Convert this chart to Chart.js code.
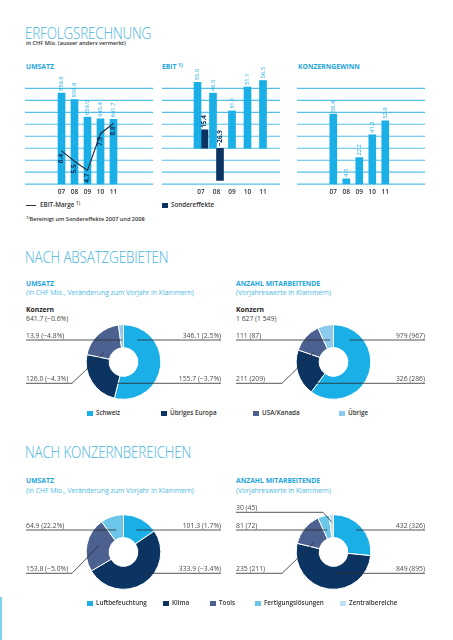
<!DOCTYPE html>
<html>
<head>
<meta charset="utf-8">
<script src="https://cdn.jsdelivr.net/npm/chart.js@4.4.1/dist/chart.umd.min.js"></script>
<style>
  body { margin: 0; background: #fff; width: 453px; height: 640px; position: relative; overflow: hidden; font-family: "Open Sans", sans-serif; }
  .t { position: absolute; white-space: nowrap; line-height: 1; }
  .h1 { font-weight: 300; font-size: 16px; color: #45b4dd; letter-spacing: -0.2px; transform: scaleX(0.84); transform-origin: 0 0; }
  .lbl { font-weight: 700; font-size: 6.8px; color: #1fa6dc; }
  .sub { font-size: 6.8px; color: #4cb8e2; }
  .kz { font-weight: 700; font-size: 6.8px; color: #222; }
  .kv { font-size: 6.8px; color: #444; }
  .leg { font-weight: 600; font-size: 6.3px; color: #333; }
  .note { font-weight: 600; font-size: 5.6px; color: #333; }
  sup { font-size: 70%; vertical-align: 0; position: relative; top: -0.4em; }
  .sq { position: absolute; width: 6px; height: 5px; }
  canvas { position: absolute; }
</style>
</head>
<body>
<div class="t h1" style="left:25px;top:25px">ERFOLGSRECHNUNG</div>
<div class="t note" style="left:26px;top:41px">in CHF Mio. (ausser anders vermerkt)</div>
<div class="t lbl" style="left:26px;top:64px">UMSATZ</div>
<div class="t lbl" style="left:162px;top:64px">EBIT <sup>1)</sup></div>
<div class="t lbl" style="left:298px;top:64px">KONZERNGEWINN</div>

<canvas id="cUmsatz" width="128" height="140" style="left:25px;top:60px"></canvas>
<canvas id="cEbit" width="118" height="140" style="left:162px;top:60px"></canvas>
<canvas id="cGewinn" width="128" height="140" style="left:297px;top:60px"></canvas>

<div style="position:absolute;left:26px;top:204.5px;width:10px;height:1px;background:#2a3242"></div>
<div class="t leg" style="left:40px;top:201.5px">EBIT-Marge <sup>1)</sup></div>
<div class="sq" style="left:162px;top:202.5px;background:#0c3463"></div>
<div class="t leg" style="left:171px;top:201.5px">Sondereffekte</div>
<div class="t note" style="left:26px;top:217px"><sup>1)</sup>Bereinigt um Sondereffekte 2007 und 2008</div>

<div class="t h1" style="left:25px;top:249px">NACH ABSATZGEBIETEN</div>
<div class="t lbl" style="left:26px;top:280.5px">UMSATZ</div>
<div class="t sub" style="left:26px;top:290px">(in CHF Mio., Veränderung zum Vorjahr in Klammern)</div>
<div class="t kz" style="left:26px;top:306.5px">Konzern</div>
<div class="t kv" id="totUmsatzRegion" style="left:26px;top:315.5px"></div>
<div class="t lbl" style="left:236px;top:280.5px">ANZAHL MITARBEITENDE</div>
<div class="t sub" style="left:236px;top:290px">(Vorjahreswerte in Klammern)</div>
<div class="t kz" style="left:236px;top:306.5px">Konzern</div>
<div class="t kv" id="totMaRegion" style="left:236px;top:315.5px"></div>

<canvas id="d1" width="195" height="92" style="left:26px;top:316px"></canvas>
<canvas id="d2" width="189" height="92" style="left:236px;top:316px"></canvas>
<div id="legRegion"></div>

<div class="t h1" style="left:25px;top:444px">NACH KONZERNBEREICHEN</div>
<div class="t lbl" style="left:26px;top:478px">UMSATZ</div>
<div class="t sub" style="left:26px;top:488px">(in CHF Mio., Veränderung zum Vorjahr in Klammern)</div>
<div class="t lbl" style="left:236px;top:478px">ANZAHL MITARBEITENDE</div>
<div class="t sub" style="left:236px;top:488px">(Vorjahreswerte in Klammern)</div>

<canvas id="d3" width="195" height="104" style="left:26px;top:500px"></canvas>
<canvas id="d4" width="189" height="104" style="left:236px;top:500px"></canvas>
<div id="legBereich"></div>

<div style="position:absolute;left:0;top:597px;width:2px;height:43px;background:#7fd0ee"></div>

<script>
// Erfolgsrechnung
const years = ["07", "08", "09", "10", "11"];
const umsatz = [859.8, 806.9, 659.0, 645.4, 641.7];
const ebitMarge = [6.4, 5.5, 4.7, 7.9, 8.8];
const ebit = [55.0, 46.0, 31.1, 51.1, 56.5];
const sondereffekte = [15.4, -26.9, null, null, null];
const konzerngewinn = [58.4, 4.5, 22.2, 41.2, 52.9];

// grid lines of the three bar charts
const umsatzGrid = [100, 200, 300, 400, 500, 600, 700, 800, 900];
const ebitGrid = [-30, -20, -10, 0, 10, 20, 30, 40, 50];
const gewinnGrid = [0, 10, 20, 30, 40, 50, 60, 70, 80];

// Absatzgebiete
const regionen = ["Schweiz", "Übriges Europa", "USA/Kanada", "Übrige"];
const umsatzRegion = [346.1, 155.7, 126.0, 13.9];
const umsatzRegionVeraenderung = ["2.5%", "−3.7%", "−4.3%", "−4.8%"];
const umsatzKonzernVeraenderung = "−0.6%";
const maRegion = [979, 326, 211, 111];
const maRegionVorjahr = [967, 286, 209, 87];

// Konzernbereiche
const bereiche = ["Luftbefeuchtung", "Klima", "Tools", "Fertigungslösungen", "Zentralbereiche"];
const umsatzBereich = [101.3, 333.9, 153.8, 64.9];
const umsatzBereichVeraenderung = ["1.7%", "−3.4%", "−5.0%", "22.2%"];
const maBereich = [432, 849, 235, 81, 30];
const maBereichVorjahr = [326, 895, 211, 72, 45];

const CYAN = "#1aafe6";
const NAVY = "#0c3463";
const GRID = "#55bfe8";
const regionColors = [CYAN, NAVY, "#4c6190", "#8ccbee"];
const bereichColors = [CYAN, NAVY, "#4c6190", "#6cc6ea", "#bfe1f3"];

Chart.defaults.font.family = "'Open Sans', sans-serif";
Chart.defaults.animation = false;
Chart.defaults.plugins.legend.display = false;
Chart.defaults.plugins.tooltip.enabled = false;

const fmt = (v) => (v < 0 ? "−" : "") + Math.abs(v).toFixed(1);
const fmtInt = (v) => String(v).replace(/\B(?=(\d{3})+(?!\d))/g, " ");

// horizontal grid lines across the whole canvas
const fullGrid = {
  id: "fullGrid",
  beforeDatasetsDraw(chart, args, opts) {
    const { ctx, width } = chart;
    const y = chart.scales.y;
    ctx.save();
    ctx.strokeStyle = GRID;
    ctx.lineWidth = 1.2;
    opts.values.forEach((v) => {
      const py = y.getPixelForValue(v);
      ctx.beginPath();
      ctx.moveTo(0, py);
      ctx.lineTo(width, py);
      ctx.stroke();
    });
    ctx.restore();
  },
};

// rotated value labels
const valueLabels = {
  id: "valueLabels",
  afterDatasetsDraw(chart) {
    const ctx = chart.ctx;
    chart.data.datasets.forEach((ds, di) => {
      const vl = ds.valueLabels;
      if (!vl) return;
      chart.getDatasetMeta(di).data.forEach((el, i) => {
        const v = ds.data[i];
        if (v === null) return;
        let y, align;
        if (vl.place === "below") {
          y = el.y + 3;
          align = "right";
        } else {
          y = Math.min(el.y, el.base) - 2;
          align = "left";
        }
        ctx.save();
        ctx.translate(el.x, y);
        ctx.rotate(-Math.PI / 2);
        ctx.font = (vl.bold ? "700 " : "400 ") + vl.size + "px 'Open Sans'";
        ctx.fillStyle = vl.color;
        ctx.textAlign = align;
        ctx.textBaseline = "middle";
        ctx.fillText(fmt(v), 0, 0);
        ctx.restore();
      });
    });
  },
};

const xAxis = {
  grid: { display: false, drawTicks: false },
  border: { display: false },
  ticks: { color: "#333", font: { size: 6.5, weight: "600" }, padding: 4, maxRotation: 0, autoSkip: false },
};

new Chart(document.getElementById("cUmsatz"), {
  type: "bar",
  data: {
    labels: years,
    datasets: [
      {
        type: "line",
        data: ebitMarge,
        yAxisID: "y2",
        borderColor: "#2a3242",
        borderWidth: 1.2,
        pointRadius: 0,
        tension: 0,
        valueLabels: { place: "below", color: NAVY, size: 6.5, bold: true },
      },
      {
        data: umsatz,
        backgroundColor: CYAN,
        barThickness: 7,
        valueLabels: { place: "above", color: CYAN, size: 5.8 },
      },
    ],
  },
  options: {
    responsive: false,
    layout: { padding: { left: 30, right: 33, top: 28.3, bottom: 0 } },
    scales: {
      x: xAxis,
      y: { display: false, min: 100, max: 900 },
      y2: { display: false, min: 3.5, max: 11.85 },
    },
    plugins: { fullGrid: { values: umsatzGrid } },
  },
  plugins: [fullGrid, valueLabels],
});

new Chart(document.getElementById("cEbit"), {
  type: "bar",
  data: {
    labels: years,
    datasets: [
      {
        data: ebit,
        backgroundColor: CYAN,
        clip: false,
        valueLabels: { place: "above", color: CYAN, size: 5.8 },
      },
      {
        data: sondereffekte,
        backgroundColor: NAVY,
        valueLabels: { place: "above", color: NAVY, size: 6.3, bold: true },
      },
    ],
  },
  options: {
    responsive: false,
    datasets: { bar: { barThickness: 7, skipNull: true } },
    layout: { padding: { left: 31.25, right: 9.25, top: 28.3, bottom: 0 } },
    scales: {
      x: xAxis,
      y: { display: false, min: -30, max: 50 },
    },
    plugins: { fullGrid: { values: ebitGrid } },
  },
  plugins: [fullGrid, valueLabels],
});

new Chart(document.getElementById("cGewinn"), {
  type: "bar",
  data: {
    labels: years,
    datasets: [
      {
        data: konzerngewinn,
        backgroundColor: CYAN,
        barThickness: 7,
        valueLabels: { place: "above", color: CYAN, size: 5.8 },
      },
    ],
  },
  options: {
    responsive: false,
    layout: { padding: { left: 29.8, right: 33.2, top: 28.3, bottom: 0 } },
    scales: {
      x: xAxis,
      y: { display: false, min: 0, max: 80 },
    },
    plugins: { fullGrid: { values: gewinnGrid } },
  },
  plugins: [fullGrid, valueLabels],
});

// leader lines with labels for the doughnuts
const leaders = {
  id: "leaders",
  afterDatasetsDraw(chart, args, opts) {
    const ctx = chart.ctx;
    const W = chart.width;
    const meta = chart.getDatasetMeta(0);
    ctx.save();
    ctx.font = "400 6.8px 'Open Sans'";
    ctx.fillStyle = "#4a4a4a";
    ctx.strokeStyle = "#2b2b2b";
    ctx.lineWidth = 0.8;
    opts.items.forEach((it) => {
      const arc = meta.data[it.i];
      const a = arc.startAngle + it.t * (arc.endAngle - arc.startAngle);
      const r = arc.innerRadius + it.f * (arc.outerRadius - arc.innerRadius);
      const ex = arc.x + r * Math.cos(a);
      const ey = arc.y + r * Math.sin(a);
      const ry = arc.y + it.dy;
      const x0 = it.side === "left" ? 0 : W;
      ctx.beginPath();
      ctx.moveTo(x0, ry);
      if (it.knee) {
        ctx.lineTo(it.side === "left" ? it.knee : W - it.knee, ry);
        ctx.lineTo(ex, ey);
      } else {
        ctx.lineTo(ex, ry);
      }
      ctx.stroke();
      ctx.textAlign = it.side;
      ctx.textBaseline = "alphabetic";
      ctx.fillText(opts.texts[it.i], x0, ry - 2);
    });
    ctx.restore();
  },
};

function doughnut(id, values, colors, texts, items, padLeft, padV) {
  new Chart(document.getElementById(id), {
    type: "doughnut",
    data: {
      labels: values.map((v, i) => i),
      datasets: [{ data: values, backgroundColor: colors, borderColor: "#fff", borderWidth: 1, hoverOffset: 0 }],
    },
    options: {
      responsive: false,
      radius: 37.3,
      cutout: 16,
      layout: { padding: { left: padLeft, right: 0, top: padV, bottom: padV } },
      plugins: { leaders: { items, texts } },
    },
    plugins: [leaders],
  });
}

doughnut("d1", umsatzRegion, regionColors,
  umsatzRegion.map((v, i) => fmt(v) + " (" + umsatzRegionVeraenderung[i] + ")"),
  [
    { i: 3, side: "left", dy: -22, t: 0.5, f: 0.3 },
    { i: 0, side: "right", dy: -22, t: 0.17, f: 0.48 },
    { i: 2, side: "left", dy: 21.3, knee: 46, t: 0.2, f: 0.32 },
    { i: 1, side: "right", dy: 21.3, t: 0.05, f: 0.3 },
  ], 0, 4);

doughnut("d2", maRegion, regionColors,
  maRegion.map((v, i) => v + " (" + maRegionVorjahr[i] + ")"),
  [
    { i: 3, side: "left", dy: -22, t: 0.63, f: 0.3 },
    { i: 0, side: "right", dy: -22, t: 0.17, f: 0.54 },
    { i: 2, side: "left", dy: 21.3, knee: 46, t: 0.2, f: 0.32 },
    { i: 1, side: "right", dy: 21.3, t: 0.05, f: 0.52 },
  ], 6, 4);

doughnut("d3", umsatzBereich, bereichColors,
  umsatzBereich.map((v, i) => fmt(v) + " (" + umsatzBereichVeraenderung[i] + ")"),
  [
    { i: 3, side: "left", dy: -22, t: 0.47, f: 0.34 },
    { i: 0, side: "right", dy: -22, t: 0.56, f: 0.46 },
    { i: 2, side: "left", dy: 21.3, knee: 46, t: 0.54, f: 0.48 },
    { i: 1, side: "right", dy: 21.3, t: 0.42, f: 0.73 },
  ], 0, 10);

doughnut("d4", maBereich, bereichColors,
  maBereich.map((v, i) => v + " (" + maBereichVorjahr[i] + ")"),
  [
    { i: 4, side: "left", dy: -39.7, knee: 87, t: 0.5, f: 0.68 },
    { i: 3, side: "left", dy: -22, t: 0.45, f: 0.32 },
    { i: 0, side: "right", dy: -22, t: 0.48, f: 0.73 },
    { i: 2, side: "left", dy: 21.3, knee: 46, t: 0.26, f: 0.31 },
    { i: 1, side: "right", dy: 21.3, t: 0.42, f: 0.6 },
  ], 6, 10);

// Konzern totals
const sum = (a) => a.reduce((s, v) => s + v, 0);
document.getElementById("totUmsatzRegion").textContent = fmt(sum(umsatzRegion)) + " (" + umsatzKonzernVeraenderung + ")";
document.getElementById("totMaRegion").textContent = fmtInt(sum(maRegion)) + " (" + fmtInt(sum(maRegionVorjahr)) + ")";

// legends
function legend(elId, names, colors, xs, y) {
  const el = document.getElementById(elId);
  names.forEach((n, i) => {
    el.insertAdjacentHTML("beforeend",
      '<div class="sq" style="left:' + xs[i] + "px;top:" + (y - 2.5) + "px;background:" + colors[i] + '"></div>' +
      '<div class="t leg" style="left:' + (xs[i] + 9) + "px;top:" + (y - 3.3) + 'px">' + n + "</div>");
  });
}
legend("legRegion", regionen, regionColors, [87, 161, 253, 339], 413.5);
legend("legBereich", bereiche, bereichColors, [87, 163, 210, 255, 340], 603.5);
</script>
</body>
</html>
